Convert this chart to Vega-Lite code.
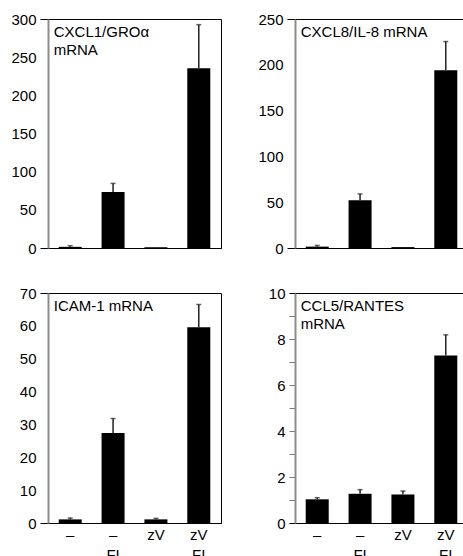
{
  "$schema": "https://vega.github.io/schema/vega-lite/v6.json",
  "padding": {"left": 7, "top": 11, "right": 0, "bottom": 0},
  "background": "white",
  "spacing": 28,
  "config": {
    "font": "Liberation Sans",
    "view": {"stroke": "black", "strokeWidth": 1},
    "axis": {"labelFont": "Liberation Sans", "labelFontSize": 15, "labelColor": "black", "grid": false, "title": null, "labelOverlap": false, "labelBound": false},
    "text": {"font": "Liberation Sans", "fontSize": 15, "color": "black", "align": "left", "baseline": "top", "lineHeight": 18, "dx": -5, "dy": 6}
  },
  "datasets": {
    "d": [
      {"p": "A", "c": "–|–", "v": 1.5, "u": 3},
      {"p": "A", "c": "–|FI", "v": 73.3, "u": 84.6},
      {"p": "A", "c": "zV|–", "v": 1, "u": null},
      {"p": "A", "c": "zV|FI", "v": 235.5, "u": 292.6},
      {"p": "B", "c": "–|–", "v": 1.5, "u": 2.8},
      {"p": "B", "c": "–|FI", "v": 52.1, "u": 59},
      {"p": "B", "c": "zV|–", "v": 1, "u": null},
      {"p": "B", "c": "zV|FI", "v": 194, "u": 225.4},
      {"p": "C", "c": "–|–", "v": 1.1, "u": 1.5},
      {"p": "C", "c": "–|FI", "v": 27.4, "u": 31.8},
      {"p": "C", "c": "zV|–", "v": 1.1, "u": 1.4},
      {"p": "C", "c": "zV|FI", "v": 59.6, "u": 66.5},
      {"p": "D", "c": "–|–", "v": 1.03, "u": 1.1},
      {"p": "D", "c": "–|FI", "v": 1.27, "u": 1.45},
      {"p": "D", "c": "zV|–", "v": 1.24, "u": 1.39},
      {"p": "D", "c": "zV|FI", "v": 7.28, "u": 8.18}
    ],
    "t": [
      {"p": "A", "label": ["CXCL1/GROα", "mRNA"]},
      {"p": "B", "label": ["CXCL8/IL-8 mRNA"]},
      {"p": "C", "label": ["ICAM-1 mRNA"]},
      {"p": "D", "label": ["CCL5/RANTES", "mRNA"]}
    ]
  },
  "vconcat": [
    {
      "spacing": 32,
      "hconcat": [
        {
          "width": 173, "height": 229,
          "resolve": {"axis": {"y": "independent"}},
          "encoding": {
            "x": {"field": "c", "type": "nominal", "sort": null, "scale": {"paddingInner": 0.463, "paddingOuter": 0.25},
                  "axis": {"labels": false, "ticks": false, "domainColor": "black", "domainWidth": 1}}
          },
          "layer": [
            {"data": {"name": "d"}, "transform": [{"filter": "datum.p == 'A'"}],
             "mark": {"type": "bar", "color": "black"},
             "encoding": {"y": {"field": "v", "type": "quantitative", "scale": {"domain": [0, 300], "nice": false},
               "axis": {"values": [0, 50, 100, 150, 200, 250, 300], "labelOverlap": false, "domainColor": "#8c8c8c", "domainWidth": 2,
                        "tickSize": 8, "tickWidth": 1, "labelPadding": 4, "minExtent": 40, "maxExtent": 40,
                        "tickColor": {"condition": {"test": "datum.value == 0 || datum.value == 300", "value": "black"}, "value": "transparent"}}}}},
            {"data": {"name": "d"}, "transform": [{"filter": "datum.p == 'A' && datum.u != null"}],
             "mark": {"type": "rule", "color": "#222222", "strokeWidth": 1.5},
             "encoding": {"y": {"field": "v", "type": "quantitative", "axis": null}, "y2": {"field": "u"}}},
            {"data": {"name": "d"}, "transform": [{"filter": "datum.p == 'A' && datum.u != null"}],
             "mark": {"type": "tick", "color": "#222222", "thickness": 1.5, "size": 5},
             "encoding": {"y": {"field": "u", "type": "quantitative", "axis": null}}},
            {"data": {"name": "t"}, "transform": [{"filter": "datum.p == 'A'"}],
             "mark": {"type": "text"},
             "encoding": {"text": {"field": "label"}, "x": {"datum": "–|–", "bandPosition": 0}, "y": {"datum": 300, "type": "quantitative", "axis": null}}}
          ]
        },
        {
          "width": 173, "height": 229,
          "resolve": {"axis": {"y": "independent"}},
          "encoding": {
            "x": {"field": "c", "type": "nominal", "sort": null, "scale": {"paddingInner": 0.463, "paddingOuter": 0.25},
                  "axis": {"labels": false, "ticks": false, "domainColor": "black", "domainWidth": 1}}
          },
          "layer": [
            {"data": {"name": "d"}, "transform": [{"filter": "datum.p == 'B'"}],
             "mark": {"type": "bar", "color": "black"},
             "encoding": {"y": {"field": "v", "type": "quantitative", "scale": {"domain": [0, 250], "nice": false},
               "axis": {"values": [0, 50, 100, 150, 200, 250], "labelOverlap": false, "domainColor": "#8c8c8c", "domainWidth": 2,
                        "tickSize": 8, "tickWidth": 1, "labelPadding": 4, "minExtent": 40, "maxExtent": 40,
                        "tickColor": {"condition": {"test": "datum.value == 0 || datum.value == 250", "value": "black"}, "value": "transparent"}}}}},
            {"data": {"name": "d"}, "transform": [{"filter": "datum.p == 'B' && datum.u != null"}],
             "mark": {"type": "rule", "color": "#222222", "strokeWidth": 1.5},
             "encoding": {"y": {"field": "v", "type": "quantitative", "axis": null}, "y2": {"field": "u"}}},
            {"data": {"name": "d"}, "transform": [{"filter": "datum.p == 'B' && datum.u != null"}],
             "mark": {"type": "tick", "color": "#222222", "thickness": 1.5, "size": 5},
             "encoding": {"y": {"field": "u", "type": "quantitative", "axis": null}}},
            {"data": {"name": "t"}, "transform": [{"filter": "datum.p == 'B'"}],
             "mark": {"type": "text"},
             "encoding": {"text": {"field": "label"}, "x": {"datum": "–|–", "bandPosition": 0}, "y": {"datum": 250, "type": "quantitative", "axis": null}}}
          ]
        }
      ]
    },
    {
      "spacing": 32,
      "hconcat": [
        {
          "width": 173, "height": 230,
          "resolve": {"axis": {"y": "independent"}},
          "encoding": {
            "x": {"field": "c", "type": "nominal", "sort": null, "scale": {"paddingInner": 0.463, "paddingOuter": 0.25},
                  "axis": {"labelExpr": "split(datum.label, '|')", "labelLineHeight": 20, "labelAngle": 0, "labelBaseline": "top",
                           "ticks": false, "labelPadding": 4, "domainColor": "black", "domainWidth": 1}}
          },
          "layer": [
            {"data": {"name": "d"}, "transform": [{"filter": "datum.p == 'C'"}],
             "mark": {"type": "bar", "color": "black"},
             "encoding": {"y": {"field": "v", "type": "quantitative", "scale": {"domain": [0, 70], "nice": false},
               "axis": {"values": [0, 10, 20, 30, 40, 50, 60, 70], "labelOverlap": false, "domainColor": "#8c8c8c", "domainWidth": 2,
                        "tickSize": 8, "tickWidth": 1, "labelPadding": 4, "minExtent": 40, "maxExtent": 40,
                        "tickColor": {"condition": {"test": "datum.value == 0 || datum.value == 70", "value": "black"}, "value": "transparent"}}}}},
            {"data": {"name": "d"}, "transform": [{"filter": "datum.p == 'C' && datum.u != null"}],
             "mark": {"type": "rule", "color": "#222222", "strokeWidth": 1.5},
             "encoding": {"y": {"field": "v", "type": "quantitative", "axis": null}, "y2": {"field": "u"}}},
            {"data": {"name": "d"}, "transform": [{"filter": "datum.p == 'C' && datum.u != null"}],
             "mark": {"type": "tick", "color": "#222222", "thickness": 1.5, "size": 5},
             "encoding": {"y": {"field": "u", "type": "quantitative", "axis": null}}},
            {"data": {"name": "t"}, "transform": [{"filter": "datum.p == 'C'"}],
             "mark": {"type": "text"},
             "encoding": {"text": {"field": "label"}, "x": {"datum": "–|–", "bandPosition": 0}, "y": {"datum": 70, "type": "quantitative", "axis": null}}}
          ]
        },
        {
          "width": 173, "height": 230,
          "resolve": {"axis": {"y": "independent"}},
          "encoding": {
            "x": {"field": "c", "type": "nominal", "sort": null, "scale": {"paddingInner": 0.463, "paddingOuter": 0.25},
                  "axis": {"labelExpr": "split(datum.label, '|')", "labelLineHeight": 20, "labelAngle": 0, "labelBaseline": "top",
                           "ticks": false, "labelPadding": 4, "domainColor": "black", "domainWidth": 1}}
          },
          "layer": [
            {"data": {"name": "d"}, "transform": [{"filter": "datum.p == 'D'"}],
             "mark": {"type": "bar", "color": "black"},
             "encoding": {"y": {"field": "v", "type": "quantitative", "scale": {"domain": [0, 10], "nice": false},
               "axis": {"values": [0, 1, 2, 3, 4, 5, 6, 7, 8, 9, 10], "labelExpr": "datum.value % 2 == 0 ? datum.label : ''", "labelOverlap": false,
                        "domainColor": "#8c8c8c", "domainWidth": 2,
                        "tickSize": 6, "tickWidth": 1, "labelPadding": 4, "minExtent": 40, "maxExtent": 40,
                        "tickColor": {"condition": {"test": "datum.value == 0 || datum.value == 10", "value": "black"}, "value": "#777777"}}}}},
            {"data": {"name": "d"}, "transform": [{"filter": "datum.p == 'D' && datum.u != null"}],
             "mark": {"type": "rule", "color": "#222222", "strokeWidth": 1.5},
             "encoding": {"y": {"field": "v", "type": "quantitative", "axis": null}, "y2": {"field": "u"}}},
            {"data": {"name": "d"}, "transform": [{"filter": "datum.p == 'D' && datum.u != null"}],
             "mark": {"type": "tick", "color": "#222222", "thickness": 1.5, "size": 5},
             "encoding": {"y": {"field": "u", "type": "quantitative", "axis": null}}},
            {"data": {"name": "t"}, "transform": [{"filter": "datum.p == 'D'"}],
             "mark": {"type": "text"},
             "encoding": {"text": {"field": "label"}, "x": {"datum": "–|–", "bandPosition": 0}, "y": {"datum": 10, "type": "quantitative", "axis": null}}}
          ]
        }
      ]
    }
  ]
}
